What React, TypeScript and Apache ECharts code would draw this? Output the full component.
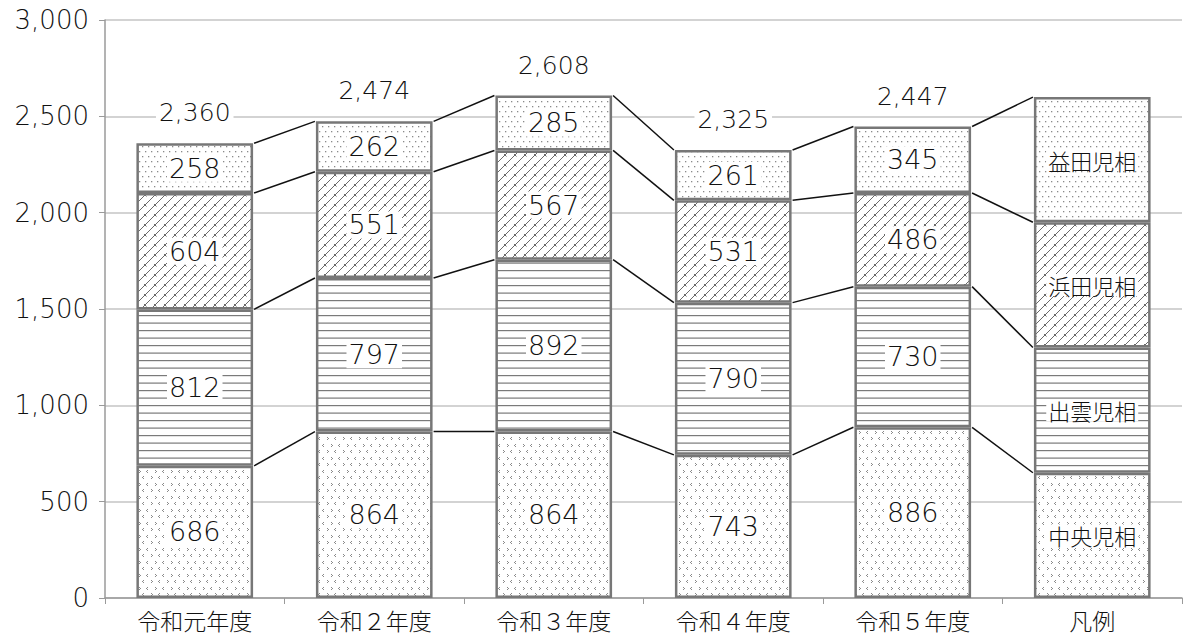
import React, { useEffect, useRef } from "react";
import * as echarts from "echarts";

const categories = ["令和元年度", "令和２年度", "令和３年度", "令和４年度", "令和５年度", "凡例"];
const seriesNames = ["中央児相", "出雲児相", "浜田児相", "益田児相"];
const chuo = [686, 864, 864, 743, 886, 650];
const izumo = [812, 797, 892, 790, 730, 650];
const hamada = [604, 551, 567, 531, 486, 650];
const masuda = [258, 262, 285, 261, 345, 650];
const totals = [2360, 2474, 2608, 2325, 2447];
const yTicks = [0, 500, 1000, 1500, 2000, 2500, 3000];

const NUMFONT = "'DejaVu Sans', 'Noto Sans CJK JP', sans-serif";
const CJKFONT = "'Noto Sans CJK JP', sans-serif";

function makeTile(w: number, h: number, draw: (c: CanvasRenderingContext2D) => void) {
  const cv = document.createElement("canvas");
  cv.width = w;
  cv.height = h;
  const c = cv.getContext("2d")!;
  c.fillStyle = "#ffffff";
  c.fillRect(0, 0, w, h);
  draw(c);
  return cv;
}

export default function App() {
  const ref = useRef<HTMLDivElement>(null);
  useEffect(() => {
    if (!ref.current) return;
    const chart = echarts.init(ref.current, null, { renderer: "svg" });

    const tChuo = makeTile(16, 13, (c) => {
      c.fillStyle = "#8a8a8a";
      const pts = [
        [3, 2], [2, 3], [3, 4],
        [11, 2], [12, 3], [11, 4],
        [7, 8], [8, 9], [7, 10],
        [15, 8], [14, 9], [15, 10],
      ];
      pts.forEach(([x, y]) => c.fillRect(x, y, 1, 1));
    });
    const tIzumo = makeTile(15, 15, (c) => {
      c.fillStyle = "#7a7a7a";
      c.fillRect(0, 0, 15, 1.2);
      c.fillRect(0, 7.5, 15, 1.2);
    });
    const tHamada = makeTile(10, 10, (c) => {
      c.strokeStyle = "#6a6a6a";
      c.lineWidth = 1;
      c.beginPath();
      c.moveTo(-1, 11);
      c.lineTo(11, -1);
      c.moveTo(4, 4);
      c.lineTo(6.5, 6.5);
      c.stroke();
    });
    const tMasuda = makeTile(12, 10, (c) => {
      c.fillStyle = "#8a8a8a";
      [[1, 1], [7, 1], [4, 6], [10, 6]].forEach(([x, y]) => c.fillRect(x, y, 1.3, 1.3));
    });
    const tiles = [tChuo, tIzumo, tHamada, tMasuda];
    const dataSets = [chuo, izumo, hamada, masuda];

    const barSeries = dataSets.map((d, si) => ({
      name: seriesNames[si],
      type: "bar",
      stack: "s",
      barWidth: "65%",
      data: d.map((v, i) =>
        i === 5 ? { value: v, label: { fontSize: 22, fontFamily: CJKFONT, fontWeight: 200 } } : v
      ),
      itemStyle: {
        color: { image: tiles[si], repeat: "repeat" },
        borderColor: "#777777",
        borderWidth: 2.5,
      },
      label: {
        show: true,
        position: "inside",
        formatter: (p: any) => (p.dataIndex === 5 ? seriesNames[si] : String(p.value)),
        fontFamily: NUMFONT,
        fontWeight: 200,
        fontSize: 27,
        color: "#111",
        backgroundColor: "#ffffff",
        padding: [0, 2],
      },
      z: 3,
    }));

    const cum = (i: number) => {
      const out: number[] = [];
      let acc = 0;
      dataSets.forEach((d) => {
        acc += d[i];
        out.push(acc);
      });
      return out;
    };

    const connectorSeries = {
      type: "custom",
      data: [0, 1, 2, 3, 4].map((i) => [i, 0]),
      encode: { x: 0, y: 1 },
      silent: true,
      z: 4,
      renderItem: (params: any, api: any) => {
        const i = api.value(0);
        const bw = api.size([1, 0])[0] * 0.65;
        const a = cum(i);
        const b = cum(i + 1);
        const children = a.map((v, k) => {
          const p1 = api.coord([i, v]);
          const p2 = api.coord([i + 1, b[k]]);
          return {
            type: "line",
            shape: { x1: p1[0] + bw / 2 + 1, y1: p1[1], x2: p2[0] - bw / 2 - 1, y2: p2[1] },
            style: { stroke: "#111", lineWidth: 1.5 },
          };
        });
        return { type: "group", children };
      },
    };

    const totalSeries = {
      type: "scatter",
      data: totals.map((v, i) => [i, v]),
      symbol: "circle",
      symbolSize: 2,
      itemStyle: { color: "rgba(0,0,0,0)", opacity: 1 },
      silent: true,
      z: 5,
      label: {
        show: true,
        position: "top",
        distance: 17,
        formatter: (p: any) => Number(p.value[1]).toLocaleString("en-US"),
        fontFamily: NUMFONT,
        fontWeight: 200,
        fontSize: 25,
        color: "#111",
        opacity: 1,
        backgroundColor: "#ffffff",
        padding: [0, 3],
      },
    };

    chart.setOption({
      animation: false,
      backgroundColor: "#ffffff",
      grid: { left: 105, right: 1, top: 20, bottom: 42, containLabel: false },
      xAxis: {
        type: "category",
        data: categories,
        axisLine: { lineStyle: { color: "#9a9a9a", width: 1.5 } },
        axisTick: { show: true, length: 6, lineStyle: { color: "#9a9a9a" } },
        axisLabel: { fontFamily: CJKFONT, fontSize: 23, fontWeight: 200, color: "#111", margin: 10 },
      },
      yAxis: {
        type: "value",
        min: yTicks[0],
        max: yTicks[yTicks.length - 1],
        interval: 500,
        axisLine: { show: true, lineStyle: { color: "#9a9a9a", width: 1.5 } },
        axisTick: { show: true, length: 6, inside: false, lineStyle: { color: "#9a9a9a" } },
        splitLine: { lineStyle: { color: "#c4c4c4", width: 1.5 } },
        axisLabel: {
          fontFamily: NUMFONT,
          fontWeight: 200,
          fontSize: 26,
          color: "#111",
          margin: 16,
          formatter: (v: number) => v.toLocaleString("en-US"),
        },
      },
      series: [...barSeries, connectorSeries, totalSeries],
    });
    return () => chart.dispose();
  }, []);
  return (
    <div
      ref={ref}
      style={{ position: "fixed", left: 0, top: 0, width: 1183, height: 640, background: "#fff" }}
    />
  );
}
